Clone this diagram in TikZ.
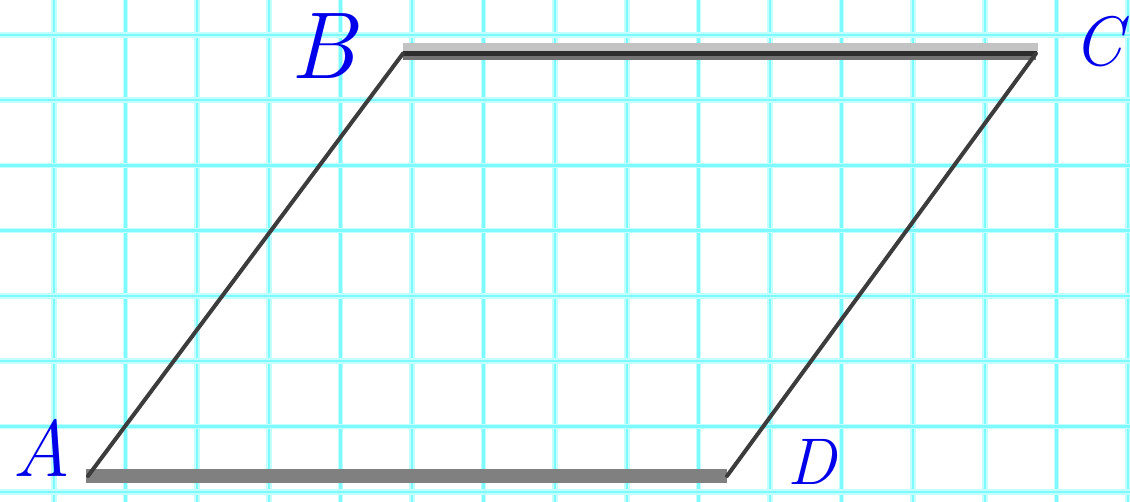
\documentclass[tikz,border=0pt]{standalone}
\usepackage{tikz}
\definecolor{gridedge}{RGB}{195,255,255}
\definecolor{gridcore}{RGB}{125,250,255}
\definecolor{toplight}{RGB}{195,195,195}
\definecolor{topdark}{RGB}{45,45,45}
\definecolor{topmid}{RGB}{115,115,115}
\definecolor{botgray}{RGB}{128,128,128}
\definecolor{diag}{RGB}{60,60,60}
\definecolor{ink}{RGB}{0,0,235}
\tikzset{
  gridedgeline/.style={gridedge, line width=5.5pt},
  gridcoreline/.style={gridcore, line width=2.5pt},
  diagside/.style={diag, line width=4pt, line cap=round},
  botside/.style={botgray, line width=14pt},
  label/.style={ink, inner sep=0pt, font=\fontsize{#1}{#1}\selectfont\itshape},
}
\begin{document}
\begin{tikzpicture}[x=1pt,y=-1pt]
\useasboundingbox (0,0) rectangle (1130,502);
\fill[white] (0,0) rectangle (1130,502);
% grid
\foreach \i in {0,...,15} {
  \draw[gridedgeline] ({54+71.6*\i},0) -- ({54+71.6*\i},502);
  \draw[gridcoreline] ({54+71.6*\i},0) -- ({54+71.6*\i},502);
}
\foreach \j in {0,...,7} {
  \draw[gridedgeline] (0,{35+65.25*\j}) -- (1130,{35+65.25*\j});
  \draw[gridcoreline] (0,{35+65.25*\j}) -- (1130,{35+65.25*\j});
}
% vertices
\coordinate (A) at (88,476);
\coordinate (B) at (403,53.5);
\coordinate (C) at (1036,53.5);
\coordinate (D) at (727,476);
% sides
\draw[botside] ([xshift=-2pt]A) -- (D);
\draw[toplight, line width=8pt] ([yshift=6.5pt]B) -- ([yshift=6.5pt,xshift=2pt]C);
\draw[topmid, line width=4pt] ([yshift=-4.5pt]B) -- ([yshift=-4.5pt]C);
\draw[topdark, line width=5pt] (B) -- ([xshift=1pt]C);
\draw[diagside] (A) -- (B);
\draw[diagside] (D) -- (C);
% labels
\node[label=95] (lB) at (323,46) {B};
\node[label=70] (lC) at (1098,42) {C};
\node[label=80] (lA) at (42,448) {A};
\node[label=66] (lD) at (812,462) {D};
\end{tikzpicture}
\end{document}
